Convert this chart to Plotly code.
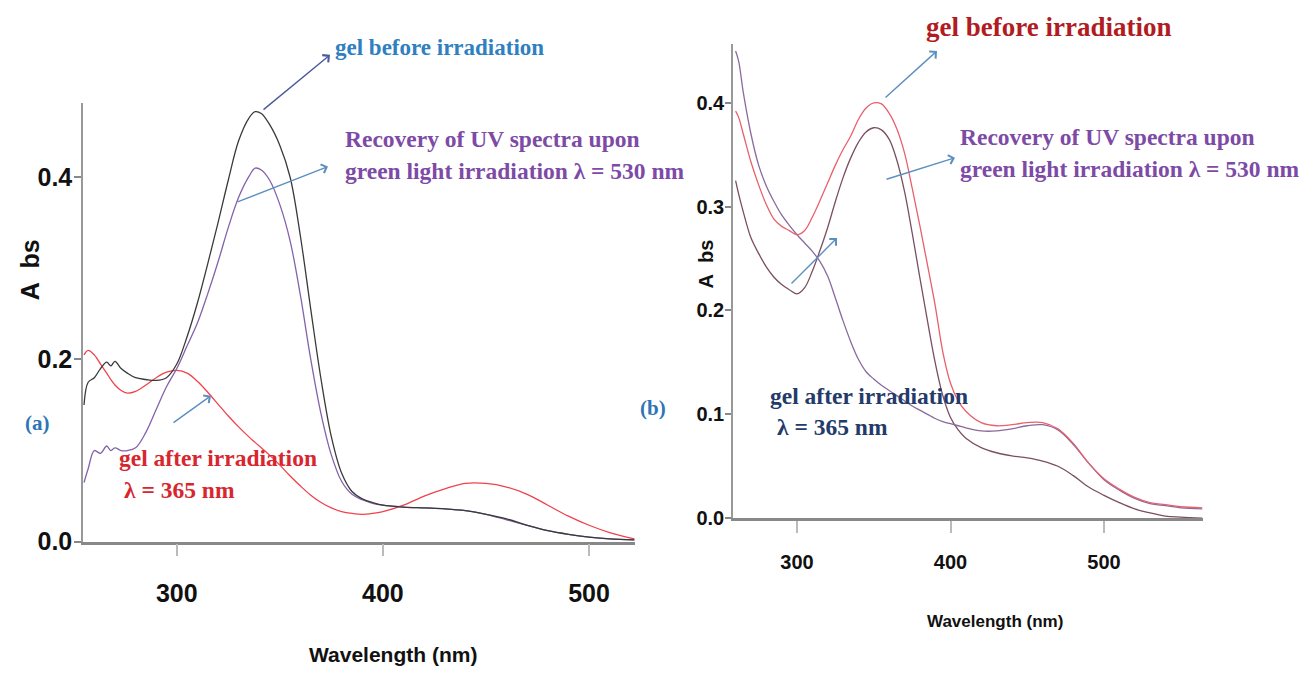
import plotly.graph_objects as go

# ---------------- panel (a) ----------------
wl_a = [255, 257, 260, 263, 266, 268, 270, 273, 276, 280, 285, 290, 295, 300,
        305, 310, 315, 320, 325, 330, 335, 338, 341, 345, 350, 355, 360, 365,
        370, 375, 380, 385, 390, 395, 400, 410, 420, 430, 440, 450, 460, 470,
        480, 490, 500, 510, 522]

before_a = [0.150, 0.175, 0.180, 0.190, 0.197, 0.193, 0.198, 0.190, 0.185, 0.180,
            0.178, 0.177, 0.180, 0.195, 0.225, 0.262, 0.305, 0.350, 0.397, 0.440,
            0.465, 0.472, 0.470, 0.458, 0.435, 0.400, 0.335, 0.255, 0.178, 0.115,
            0.075, 0.055, 0.047, 0.043, 0.040, 0.038, 0.037, 0.036, 0.034, 0.030,
            0.025, 0.018, 0.012, 0.008, 0.005, 0.003, 0.002]

recovery_a = [0.065, 0.080, 0.100, 0.097, 0.105, 0.100, 0.103, 0.100, 0.100, 0.103,
              0.120, 0.145, 0.170, 0.190, 0.215, 0.240, 0.272, 0.307, 0.345, 0.378,
              0.401, 0.410, 0.408, 0.397, 0.370, 0.330, 0.270, 0.200, 0.140, 0.095,
              0.066, 0.052, 0.046, 0.042, 0.040, 0.038, 0.037, 0.036, 0.034, 0.030,
              0.024, 0.018, 0.012, 0.008, 0.005, 0.003, 0.002]

after_a = [0.205, 0.210, 0.205, 0.195, 0.185, 0.178, 0.172, 0.166, 0.163, 0.165,
           0.172, 0.180, 0.186, 0.188, 0.185, 0.176, 0.164, 0.151, 0.138, 0.126,
           0.115, 0.109, 0.103, 0.095, 0.084, 0.072, 0.061, 0.051, 0.043, 0.037,
           0.033, 0.031, 0.030, 0.031, 0.033, 0.040, 0.050, 0.058, 0.064, 0.064,
           0.060, 0.052, 0.040, 0.028, 0.018, 0.010, 0.003]

# ---------------- panel (b) ----------------
wl_b = [260, 262, 265, 270, 275, 280, 285, 290, 295, 300, 305, 310, 315, 320,
        325, 330, 335, 340, 345, 350, 355, 360, 365, 370, 375, 380, 385, 390,
        395, 400, 405, 410, 420, 430, 440, 450, 460, 470, 480, 490, 500, 510,
        520, 530, 540, 550, 564]

before_b = [0.392, 0.386, 0.370, 0.343, 0.321, 0.302, 0.288, 0.281, 0.277, 0.273,
            0.277, 0.290, 0.306, 0.323, 0.340, 0.355, 0.368, 0.384, 0.395, 0.400,
            0.399, 0.390, 0.375, 0.352, 0.318, 0.282, 0.244, 0.205, 0.160, 0.130,
            0.113, 0.103, 0.092, 0.089, 0.090, 0.092, 0.092, 0.086, 0.072, 0.053,
            0.038, 0.028, 0.020, 0.015, 0.013, 0.011, 0.010]

after_b = [0.450, 0.440, 0.410, 0.370, 0.340, 0.320, 0.305, 0.292, 0.282, 0.273,
           0.265, 0.257, 0.247, 0.233, 0.212, 0.190, 0.170, 0.153, 0.141, 0.134,
           0.128, 0.123, 0.118, 0.113, 0.108, 0.104, 0.100, 0.096, 0.093, 0.091,
           0.089, 0.087, 0.084, 0.084, 0.086, 0.089, 0.090, 0.085, 0.071, 0.053,
           0.037, 0.027, 0.019, 0.014, 0.012, 0.010, 0.009]

recovery_b = [0.325, 0.312, 0.295, 0.270, 0.255, 0.242, 0.232, 0.225, 0.220, 0.216,
              0.222, 0.238, 0.258, 0.280, 0.305, 0.328, 0.347, 0.362, 0.372, 0.376,
              0.374, 0.365, 0.345, 0.315, 0.275, 0.232, 0.190, 0.150, 0.118, 0.097,
              0.085, 0.077, 0.068, 0.063, 0.060, 0.058, 0.055, 0.050, 0.041, 0.030,
              0.022, 0.015, 0.009, 0.005, 0.002, 0.001, 0.000]

W, H = 1304, 683


def paper(x, y):
    """Pixel position on the page -> paper coordinates."""
    return x / W, 1 - y / H


fig = go.Figure()

line_kw = dict(mode="lines", line_shape="spline", showlegend=False, hoverinfo="skip")

# panel (a) spectra
fig.add_trace(go.Scatter(x=wl_a, y=after_a, line=dict(color="#f0424c", width=1.3),
                         xaxis="x", yaxis="y", **line_kw))
fig.add_trace(go.Scatter(x=wl_a, y=recovery_a, line=dict(color="#8462aa", width=1.3),
                         xaxis="x", yaxis="y", **line_kw))
fig.add_trace(go.Scatter(x=wl_a, y=before_a, line=dict(color="#3a3a3a", width=1.3),
                         xaxis="x", yaxis="y", **line_kw))

# panel (b) spectra
fig.add_trace(go.Scatter(x=wl_b, y=recovery_b, line=dict(color="#7a4f62", width=1.3),
                         xaxis="x2", yaxis="y2", **line_kw))
fig.add_trace(go.Scatter(x=wl_b, y=after_b, line=dict(color="#8a6a9c", width=1.3),
                         xaxis="x2", yaxis="y2", **line_kw))
fig.add_trace(go.Scatter(x=wl_b, y=before_b, line=dict(color="#e8606c", width=1.3),
                         xaxis="x2", yaxis="y2", **line_kw))

sans = "Liberation Sans, Arial, sans-serif"
tick_font_a = dict(family=sans, size=25, color="#111111", weight="bold")
tick_font_b = dict(family=sans, size=20, color="#111111", weight="bold")

axis_common = dict(showgrid=False, zeroline=False, showline=True, ticks="outside")

fig.update_layout(
    width=W, height=H,
    margin=dict(l=0, r=0, t=0, b=0),
    paper_bgcolor="white", plot_bgcolor="white",
    xaxis=dict(domain=[83 / W, 635 / W], range=[254.5, 522.3],
               tickvals=[300, 400, 500], ticklen=12, tickwidth=1.5, tickcolor="#bbbbbb",
               linecolor="#888888", linewidth=2.5, tickfont=tick_font_a, anchor="y",
               ticklabelstandoff=16, **axis_common),
    yaxis=dict(domain=[1 - 553 / H, 1 - 105 / H], range=[0, 0.4817],
               tickvals=[0.0, 0.2, 0.4], ticktext=["0.0", "0.2", "0.4"],
               ticklen=7, tickwidth=1.5, tickcolor="#888888",
               linecolor="#999999", linewidth=1.5, tickfont=tick_font_a, anchor="x",
               ticklabelstandoff=-3, **axis_common),
    xaxis2=dict(domain=[733 / W, 1203 / W], range=[258.3, 564.5],
                tickvals=[300, 400, 500], ticklen=12, tickwidth=1.5, tickcolor="#bbbbbb",
                linecolor="#888888", linewidth=2.5, tickfont=tick_font_b, anchor="y2",
                ticklabelstandoff=12, **axis_common),
    yaxis2=dict(domain=[1 - 529 / H, 1 - 45 / H], range=[0, 0.4566],
                tickvals=[0.0, 0.1, 0.2, 0.3, 0.4],
                ticktext=["0.0", "0.1", "0.2", "0.3", "0.4"],
                ticklen=6, tickwidth=1.5, tickcolor="#888888",
                linecolor="#999999", linewidth=1.5, tickfont=tick_font_b, anchor="x2",
                ticklabelstandoff=-3, **axis_common),
)

serif = "Liberation Serif, Times New Roman, serif"
annotations = []


def label(text, x, y, color, size, family=serif, xanchor="left", angle=0, bold=True):
    px_, py_ = paper(x, y)
    annotations.append(dict(
        text=text, x=px_, y=py_, xref="paper", yref="paper", showarrow=False,
        xanchor=xanchor, yanchor="middle", textangle=angle,
        font=dict(family=family, size=size, color=color, weight="bold" if bold else "normal"),
    ))


def arrow(tail, head, color):
    hx, hy = paper(*head)
    annotations.append(dict(
        text="", x=hx, y=hy, xref="paper", yref="paper", showarrow=True,
        ax=tail[0] - head[0], ay=tail[1] - head[1],
        arrowhead=4, arrowsize=1.3, arrowwidth=1.4, arrowcolor=color, standoff=0,
    ))


steel = "#5b8fc0"

# axis titles
label("Wavelength (nm)", 393, 668, "#111111", 21, family=sans, xanchor="center")
label("A\u00a0\u00a0bs", 30, 276, "#111111", 25, family=sans, xanchor="center", angle=-90)
label("Wavelength (nm)", 995, 635, "#111111", 17, family=sans, xanchor="center")
label("A\u00a0\u00a0bs", 706, 270, "#111111", 20, family=sans, xanchor="center", angle=-90)

# panel (a) annotations
label("gel before irradiation", 333, 48, "#2f7fc1", 23)
label("Recovery of UV spectra upon", 343, 142, "#7d4aa6", 23.5)
label("green light irradiation \u03bb = 530 nm", 343, 175, "#7d4aa6", 23.5)
label("(a)", 37, 432, "#2e75b6", 21, xanchor="center")
label("gel after irradiation", 117, 468, "#d8262e", 23.5)
label("\u03bb = 365 nm", 122, 500, "#d8262e", 23.5)
arrow((262, 112), (330, 56), "#4a5a9c")
arrow((236, 206), (328, 170), steel)
arrow((172, 432), (211, 404), steel)

# panel (b) annotations
label("gel before irradiation", 924, 28, "#b01c22", 27)
label("Recovery of UV spectra upon", 958, 140, "#7d4aa6", 23.5)
label("green light irradiation \u03bb = 530 nm", 958, 173, "#7d4aa6", 23.5)
label("(b)", 653, 417, "#2e75b6", 21, xanchor="center")
label("gel after irradiation", 768, 404, "#233a6a", 23.5)
label("\u03bb = 365 nm", 775, 436, "#233a6a", 23.5)
arrow((884, 100), (937, 52), steel)
arrow((885, 183), (955, 161), steel)
arrow((790, 290), (837, 243), steel)

fig.update_layout(annotations=annotations)

fig.write_html("out.html")
